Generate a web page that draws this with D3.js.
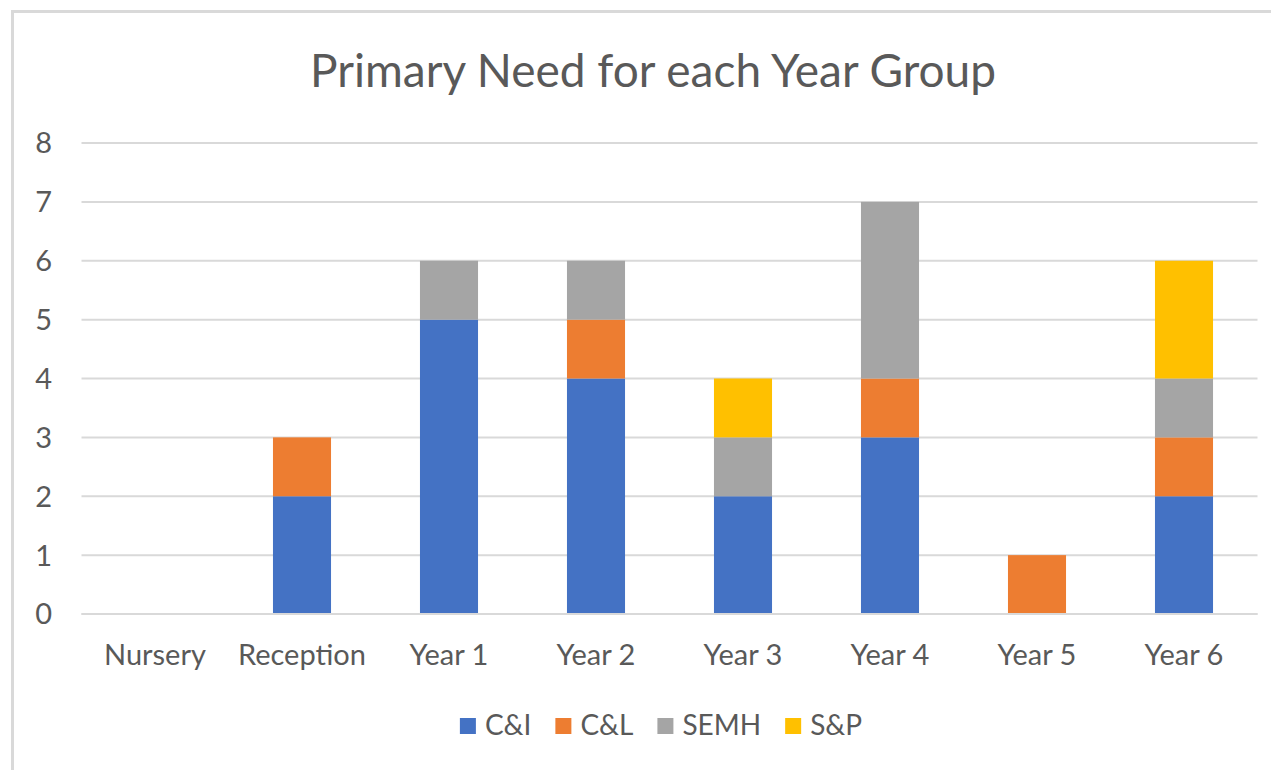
<!DOCTYPE html>
<html>
<head>
<meta charset="utf-8">
<script src="https://cdn.jsdelivr.net/npm/d3@7"></script>
<style>
    body { margin: 0; background: #fff; }
    text { font-family: Lato, "Open Sans", sans-serif; fill: #595959; }
</style>
</head>
<body>
<svg id="chart"></svg>
<script>
// Data
const yearGroups = ["Nursery", "Reception", "Year 1", "Year 2", "Year 3", "Year 4", "Year 5", "Year 6"];
const needs = ["C&I", "C&L", "SEMH", "S&P"];
const ciValues   = [0, 2, 5, 4, 2, 3, 0, 2];
const clValues   = [0, 1, 0, 1, 0, 1, 1, 1];
const semhValues = [0, 0, 1, 1, 1, 3, 0, 1];
const spValues   = [0, 0, 0, 0, 1, 0, 0, 2];
const yTicks = [0, 1, 2, 3, 4, 5, 6, 7, 8];
const colours = ["#4472C4", "#ED7D31", "#A5A5A5", "#FFC000"];

const config = {
    width: 1271,
    height: 770,
    plot: { left: 81.5, right: 1257.5, top: 143, bottom: 614 },
    gridColour: "#d9d9d9"
};

// build table for stacking
const table = yearGroups.map((g, i) => ({
    group: g,
    "C&I": ciValues[i],
    "C&L": clValues[i],
    "SEMH": semhValues[i],
    "S&P": spValues[i]
}));

const svg = d3.select("#chart")
    .attr("width", config.width)
    .attr("height", config.height);

// outer chart border (clipped on the right and bottom like the screenshot)
svg.append("rect")
    .attr("x", 12.5)
    .attr("y", 11.5)
    .attr("width", 1300)
    .attr("height", 800)
    .attr("fill", "none")
    .attr("stroke", config.gridColour)
    .attr("stroke-width", 3);

const x = d3.scaleBand()
    .domain(yearGroups)
    .range([config.plot.left, config.plot.right])
    .paddingInner(0.605)
    .paddingOuter(0.3025);

const y = d3.scaleLinear()
    .domain([0, 8])
    .range([config.plot.bottom, config.plot.top]);

const colour = d3.scaleOrdinal().domain(needs).range(colours);

// gridlines
svg.append("g")
    .selectAll("line")
    .data(yTicks)
    .join("line")
    .attr("x1", config.plot.left)
    .attr("x2", config.plot.right)
    .attr("y1", d => y(d))
    .attr("y2", d => y(d))
    .attr("stroke", config.gridColour)
    .attr("stroke-width", 2);

// y labels
svg.append("g")
    .selectAll("text")
    .data(yTicks)
    .join("text")
    .attr("x", 52)
    .attr("y", d => y(d))
    .attr("dy", "0.36em")
    .attr("text-anchor", "end")
    .style("font-size", "29px")
    .text(d => d);

// stacked bars
const stacked = d3.stack().keys(needs)(table);

svg.append("g")
    .selectAll("g")
    .data(stacked)
    .join("g")
    .attr("fill", d => colour(d.key))
    .selectAll("rect")
    .data(d => d.filter(s => s[1] - s[0] > 0))
    .join("rect")
    .attr("x", d => x(d.data.group))
    .attr("width", x.bandwidth())
    .attr("y", d => y(d[1]))
    .attr("height", d => y(d[0]) - y(d[1]));

// redraw baseline over bars
svg.append("line")
    .attr("x1", config.plot.left)
    .attr("x2", config.plot.right)
    .attr("y1", y(0))
    .attr("y2", y(0))
    .attr("stroke", config.gridColour)
    .attr("stroke-width", 2);

// x labels
svg.append("g")
    .selectAll("text")
    .data(yearGroups)
    .join("text")
    .attr("x", d => x(d) + x.bandwidth() / 2)
    .attr("y", 665)
    .attr("text-anchor", "middle")
    .style("font-size", "29px")
    .text(d => d);

// title
svg.append("text")
    .attr("x", 653)
    .attr("y", 87)
    .attr("text-anchor", "middle")
    .style("font-size", "46px")
    .text("Primary Need for each Year Group");

// legend, laid out from measured text widths and centred
const legend = svg.append("g");
const items = legend.selectAll("g")
    .data(needs)
    .join("g");

items.append("rect")
    .attr("width", 16)
    .attr("height", 16)
    .attr("y", 718)
    .attr("fill", d => colour(d));

items.append("text")
    .attr("x", 25)
    .attr("y", 735)
    .style("font-size", "28px")
    .text(d => d);

let offset = 0;
items.each(function() {
    const w = d3.select(this).select("text").node().getComputedTextLength();
    d3.select(this).attr("transform", `translate(${offset},0)`);
    offset += 25 + w + 24;
});
const legendWidth = offset - 24;
legend.attr("transform", `translate(${661 - legendWidth / 2},0)`);
</script>
</body>
</html>
